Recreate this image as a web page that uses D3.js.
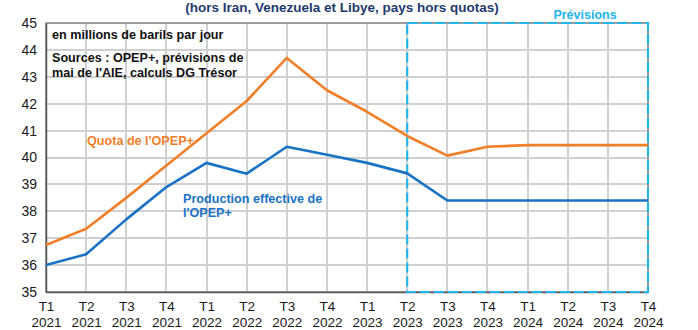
<!DOCTYPE html>
<html><head><meta charset="utf-8">
<script src="https://cdn.jsdelivr.net/npm/d3@7/dist/d3.min.js"></script>
<style>body{margin:0;background:#fff;}svg{display:block;font-family:Arial,"Liberation Sans",sans-serif;}</style>
</head><body><svg id="c" width="698" height="330"></svg>
<script>
const quarters = ["T1","T2","T3","T4","T1","T2","T3","T4","T1","T2","T3","T4","T1","T2","T3","T4"];
const years = ["2021","2021","2021","2021","2022","2022","2022","2022","2023","2023","2023","2023","2024","2024","2024","2024"];
const quota = [36.75,37.35,38.5,39.7,40.9,42.1,43.7,42.5,41.7,40.8,40.07,40.4,40.46,40.46,40.46,40.46];
const production = [36.0,36.4,37.7,38.9,39.8,39.4,40.4,40.1,39.8,39.41,38.4,38.4,38.4,38.4,38.4,38.4];
const yTicks = [35,36,37,38,39,40,41,42,43,44,45];
const forecastStart = 9;

const svg = d3.select("#c");
const m = {l:46, r:648, t:23, b:292};
const idx = d3.range(quarters.length);
const x = d3.scaleLinear().domain([0, quarters.length-1]).range([m.l, m.r]);
const y = d3.scaleLinear().domain([35,45]).range([m.b, m.t]);

// grid as thin rects
const gridColor = "#d0d0d0";
svg.append("g").selectAll("rect.h").data(yTicks).join("rect").attr("class","h")
  .attr("x", m.l).attr("width", m.r-m.l).attr("y", d => Math.round(y(d))-1).attr("height", 2)
  .attr("fill", gridColor);
svg.append("g").selectAll("rect.v").data(idx).join("rect").attr("class","v")
  .attr("x", d => Math.round(x(d))-1).attr("width", 2).attr("y", m.t).attr("height", m.b-m.t)
  .attr("fill", gridColor);

// border
svg.append("rect").attr("x", m.l).attr("y", m.t).attr("width", m.r-m.l).attr("height", m.b-m.t)
  .attr("fill","none").attr("stroke","#7f7f7f").attr("stroke-width",1.3);

// y axis
const ya = svg.append("g").attr("transform", `translate(${m.l},0)`)
  .call(d3.axisLeft(y).tickValues(yTicks).tickSize(0).tickPadding(9));
ya.select(".domain").attr("stroke","#595959").attr("stroke-width",1.5);
ya.selectAll("text").attr("font-size", 14).attr("fill","#1a1a1a").attr("font-family","Arial");

// x axis
const xa = svg.append("g").attr("transform", `translate(0,${m.b})`)
  .call(d3.axisBottom(x).tickValues(idx).tickSize(0).tickFormat(""));
xa.select(".domain").attr("stroke","#595959").attr("stroke-width",1.5);
xa.selectAll(".tick").each(function(d){
  const t = d3.select(this).append("text").attr("fill","#1a1a1a").attr("font-size",13.5)
    .attr("text-anchor","middle").attr("font-family","Arial");
  t.append("tspan").attr("x",0).attr("y",19).text(quarters[d]);
  t.append("tspan").attr("x",0).attr("y",35).text(years[d]);
});

// forecast box
svg.append("rect").attr("x", x(forecastStart)).attr("y", m.t).attr("width", x(quarters.length-1)-x(forecastStart)).attr("height", m.b-m.t)
  .attr("fill","none").attr("stroke","#22b6ec").attr("stroke-width",2.2).attr("stroke-dasharray","10,4");
svg.append("text").attr("x", 585).attr("y", 19).attr("text-anchor","middle")
  .attr("fill","#22b6ec").attr("font-weight","bold").attr("font-size",12.5).text("Prévisions");

// lines
const line = d3.line().x((d,i)=>x(i)).y(d=>y(d));
svg.append("path").datum(quota).attr("d", line).attr("fill","none").attr("stroke","#f07f2a").attr("stroke-width",2.6).attr("stroke-linejoin","round");
svg.append("path").datum(production).attr("d", line).attr("fill","none").attr("stroke","#1a72c4").attr("stroke-width",2.6).attr("stroke-linejoin","round");

// title
svg.append("text").attr("x", 342).attr("y", 12).attr("text-anchor","middle").attr("fill","#1f3a6e")
  .attr("font-weight","bold").attr("font-size",13.5).text("(hors Iran, Venezuela et Libye, pays hors quotas)");

// annotations
const ann = svg.append("g").attr("font-weight","bold").attr("font-size",12.6).attr("fill","#111");
ann.append("text").attr("x",52).attr("y",39).text("en millions de barils par jour");
ann.append("text").attr("x",52).attr("y",62).text("Sources : OPEP+, prévisions de");
ann.append("text").attr("x",52).attr("y",77).text("mai de l'AIE, calculs DG Trésor");

svg.append("text").attr("x",87).attr("y",145).attr("fill","#f07f2a").attr("font-weight","bold").attr("font-size",12.6).text("Quota de l'OPEP+");
const pt = svg.append("text").attr("fill","#1a72c4").attr("font-weight","bold").attr("font-size",12.6);
pt.append("tspan").attr("x",183).attr("y",203).text("Production effective de");
pt.append("tspan").attr("x",183).attr("y",217).text("l'OPEP+");
</script></body></html>
